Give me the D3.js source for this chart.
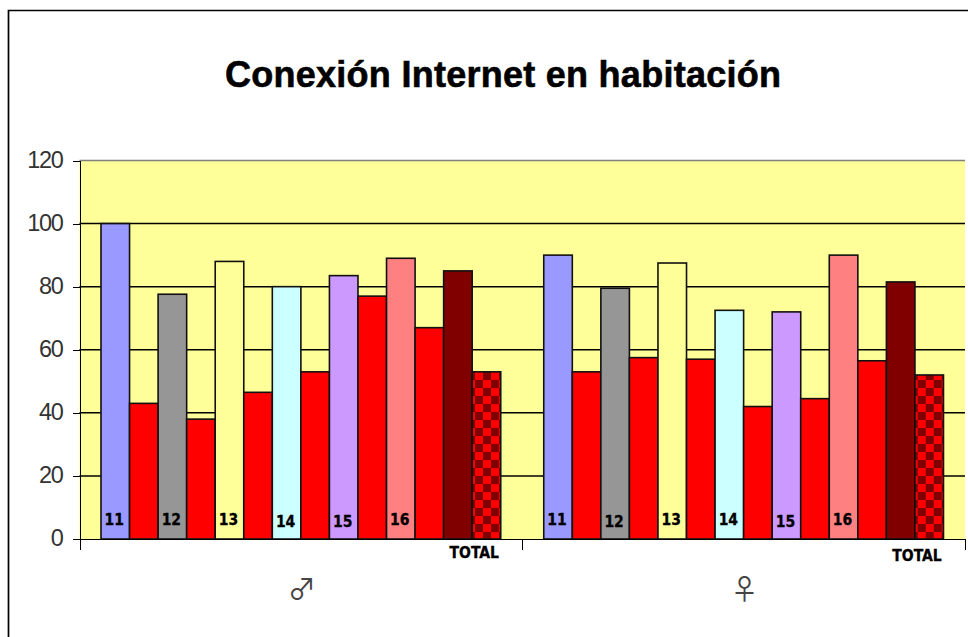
<!DOCTYPE html>
<html lang="en">
<head>
<meta charset="UTF-8" />
<title>Conexión Internet en habitación</title>
<script src="https://d3js.org/d3.v7.min.js"></script>
<style>
    html, body { margin: 0; padding: 0; background: #fff; }
    svg { display: block; }
    .axis path, .axis line { fill: none; stroke: #000; shape-rendering: crispEdges; }
    .axis text { font-family: "Liberation Sans", Arial, sans-serif; font-size: 23.5px; letter-spacing: -1.3px; fill: #333; }
    .barlabel { font-family: "DejaVu Sans Condensed", "DejaVu Sans", sans-serif; font-weight: bold; font-size: 15.5px; fill: #000; stroke: #000; stroke-width: 0.3px; }
</style>
</head>
<body>
<script>
    // values
    var groups = ["♂", "♀"];
    var ages = ["11", "", "12", "", "13", "", "14", "", "15", "", "16", "", "TOTAL", ""];
    var male = [100, 43, 77.6, 38, 88, 46.5, 80, 53, 83.5, 77, 89, 67, 85, 53];
    var female = [90, 53, 79.5, 57.5, 87.5, 57, 72.5, 42, 72, 44.5, 90, 56.5, 81.5, 52];
    var yTicks = [0, 20, 40, 60, 80, 100, 120];
    var barColors = ["#9999ff", "#ff0000", "#969696", "#ff0000", "#ffff99", "#ff0000", "#ccffff", "#ff0000",
        "#cc99ff", "#ff0000", "#ff8080", "#ff0000", "#800000", "url(#checker)"];
    var seriesValues = [male, female];

    var w = 968, h = 637;
    var plot = { left: 79.5, right: 965, top: 160.5, bottom: 539 };

    var svg = d3.select("body").append("svg")
        .attr("width", w)
        .attr("height", h);

    var checker = svg.append("defs").append("pattern")
        .attr("id", "checker")
        .attr("patternUnits", "userSpaceOnUse")
        .attr("patternTransform", "translate(11.5,12)")
        .attr("width", 16).attr("height", 16);
    checker.append("rect").attr("width", 16).attr("height", 16).attr("fill", "#ff0000");
    checker.append("rect").attr("width", 8).attr("height", 8).attr("fill", "#800000");
    checker.append("rect").attr("x", 8).attr("y", 8).attr("width", 8).attr("height", 8).attr("fill", "#800000");

    // outer frame, open at the bottom and right like the cropped original
    svg.append("path")
        .attr("d", "M8.5," + h + "V10.5H" + w)
        .attr("fill", "none")
        .attr("stroke", "#000")
        .attr("stroke-width", 1.7);

    var xGroup = d3.scaleBand()
        .domain(groups)
        .range([plot.left, plot.right])
        .paddingInner(0)
        .paddingOuter(0);

    var xBar = d3.scaleBand()
        .domain(d3.range(ages.length))
        .range([21.5, xGroup.bandwidth() - 21.5]);

    var yScale = d3.scaleLinear()
        .domain([0, 120])
        .range([plot.bottom, plot.top]);

    // plot background
    svg.append("rect")
        .attr("x", plot.left)
        .attr("y", plot.top)
        .attr("width", plot.right - plot.left)
        .attr("height", plot.bottom - plot.top)
        .attr("fill", "#ffff99");

    svg.append("line")
        .attr("x1", plot.left).attr("x2", plot.right)
        .attr("y1", plot.top).attr("y2", plot.top)
        .attr("stroke", "#808080")
        .attr("stroke-width", 1.7);

    svg.append("g")
        .selectAll("line")
        .data(yTicks.filter(function (d) { return d > 0 && d < 120; }))
        .enter().append("line")
        .attr("x1", plot.left).attr("x2", plot.right)
        .attr("y1", function (d) { return yScale(d); })
        .attr("y2", function (d) { return yScale(d); })
        .attr("stroke", "#000")
        .attr("stroke-width", 1.5);

    var layers = svg.selectAll(".layer")
        .data(seriesValues)
        .enter().append("g")
        .attr("class", "layer")
        .attr("transform", function (d, i) { return "translate(" + xGroup(groups[i]) + ",0)"; });

    layers.selectAll("rect")
        .data(function (d) { return d; })
        .enter().append("rect")
        .attr("x", function (d, i) { return xBar(i); })
        .attr("y", function (d) { return yScale(d); })
        .attr("width", xBar.bandwidth())
        .attr("height", function (d) { return yScale(0) - yScale(d); })
        .attr("fill", function (d, i) { return barColors[i]; })
        .attr("stroke", "#111")
        .attr("stroke-width", 1.6);

    // hand-placed labels in the original sit a little unevenly
    var labelDrop = [[0, 0, 0, 2, 2, 0, 0], [0, 2, 0, 0, 2, 0, 0]];

    layers.each(function (d, g) {
        var layer = d3.select(this);
        ages.forEach(function (a, i) {
            if (!a || a === "TOTAL") return;
            layer.append("text")
                .attr("class", "barlabel")
                .attr("x", xBar(i) + xBar.bandwidth() / 2 - 1)
                .attr("y", 525 + labelDrop[g][i / 2])
                .attr("text-anchor", "middle")
                .text(a);
        });
        layer.append("text")
            .attr("class", "barlabel")
            .attr("x", xBar(13) + 2)
            .attr("y", g ? 561 : 558)
            .attr("text-anchor", "middle")
            .text("TOTAL");
    });

    var yAxis = svg.append("g")
        .attr("class", "axis")
        .attr("transform", "translate(" + plot.left + ",0)")
        .call(d3.axisLeft(yScale).tickValues(yTicks).tickSize(7).tickPadding(10).tickFormat(d3.format("d")));
    yAxis.selectAll("text").attr("dy", "0.28em");

    var xEdges = d3.scaleLinear().domain([0, groups.length]).range([plot.left, plot.right]);
    svg.append("g")
        .attr("class", "axis")
        .attr("transform", "translate(0," + plot.bottom + ")")
        .call(d3.axisBottom(xEdges).tickValues(d3.range(groups.length + 1)).tickSize(11).tickFormat(""));

    svg.selectAll(".groupname")
        .data(groups)
        .enter().append("text")
        .attr("class", "groupname")
        .attr("x", function (d) { return xGroup(d) + xGroup.bandwidth() / 2 + 1; })
        .attr("y", 600)
        .attr("text-anchor", "middle")
        .attr("font-family", "Noto Sans CJK JP, sans-serif")
        .attr("font-size", 28)
        .attr("fill", "#444")
        .text(function (d) { return d; });

    svg.append("text")
        .attr("x", 503)
        .attr("y", 87)
        .attr("text-anchor", "middle")
        .attr("font-family", "Liberation Sans, Arial, sans-serif")
        .attr("font-weight", "bold")
        .attr("font-size", 36)
        .attr("textLength", 556)
        .attr("lengthAdjust", "spacing")
        .attr("fill", "#000")
        .attr("stroke", "#000")
        .attr("stroke-width", 0.6)
        .text("Conexión Internet en habitación");
</script>
</body>
</html>
